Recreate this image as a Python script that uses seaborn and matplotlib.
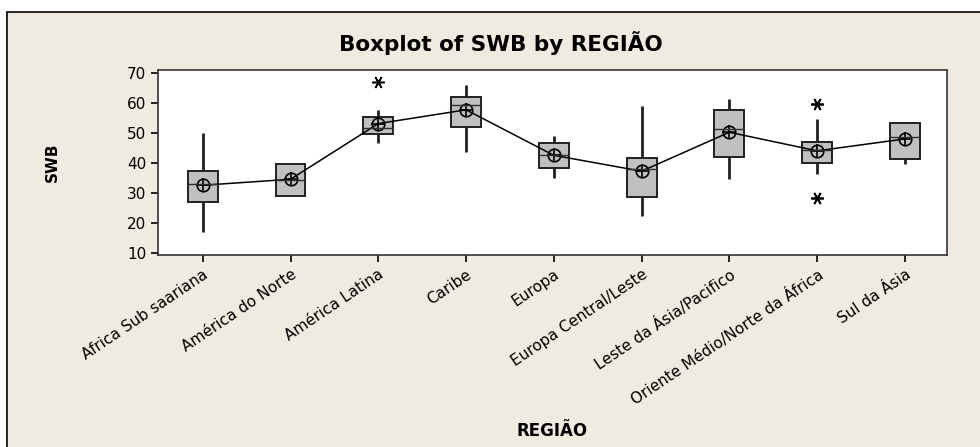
import numpy as np
import pandas as pd
import seaborn as sns
from matplotlib import pyplot as plt
from matplotlib.patches import Rectangle

regioes = ["Africa Sub saariana", "América do Norte", "América Latina", "Caribe",
           "Europa", "Europa Central/Leste", "Leste da Ásia/Pacifico",
           "Oriente Médio/Norte da África", "Sul da Ásia"]

africa_sub = [16.9, 22.0, 27.1, 30.0, 32.9, 35.0, 37.4, 42.1, 50.0]
america_norte = [29.0, 29.0, 29.0, 32.0, 34.4, 38.6, 39.8, 39.8, 39.8]
america_latina = [46.6, 48.0, 49.0, 49.7, 50.5, 51.2, 51.8, 53.0, 54.5, 55.3, 57.0, 57.8, 67.2]
caribe = [43.8, 51.5, 52.2, 58.5, 59.4, 61.6, 62.0, 65.0, 66.2]
europa = [35.1, 37.0, 38.2, 40.5, 42.7, 45.5, 46.8, 48.5, 49.1]
europa_central = [22.4, 25.0, 28.6, 35.0, 37.9, 40.0, 41.7, 45.9, 59.2]
leste_asia = [34.6, 40.0, 42.1, 49.0, 51.4, 56.5, 57.7, 60.0, 61.4]
oriente_medio = [28.2, 28.2, 36.3, 38.0, 39.9, 41.0, 42.5, 43.5, 44.4,
                 45.0, 45.8, 46.5, 47.1, 49.1, 54.6, 59.8, 59.8]
sul_asia = [39.6, 41.2, 41.4, 48.2, 48.6, 53.2, 53.3, 53.5, 53.6]

valores = [africa_sub, america_norte, america_latina, caribe, europa,
           europa_central, leste_asia, oriente_medio, sul_asia]

df = pd.DataFrame({
    "REGIAO": [r for r, v in zip(regioes, valores) for _ in v],
    "SWB": [x for v in valores for x in v],
})

sns.set_style("white")
plt.rcParams['font.family'] = ['DejaVu Sans']
plt.rcParams['text.color'] = 'black'
plt.rcParams['axes.labelcolor'] = 'black'

fig = plt.figure(figsize=(9.8, 4.47), dpi=100)
fig.patch.set_facecolor("white")
# painel bege do Minitab
fig.patches.append(Rectangle((7 / 980, -0.01), 1.0, 1 - 12 / 447 + 0.01,
                             transform=fig.transFigure, facecolor="#EFEBE1",
                             edgecolor="black", linewidth=1.2, zorder=-5))

ax = fig.add_axes([158 / 980, 1 - 255 / 447, (947 - 158) / 980, (255 - 70) / 447])
ax.set_facecolor("white")

sns.boxplot(data=df, x="REGIAO", y="SWB", order=regioes, ax=ax, width=0.34,
            color="#C0C0C0", linecolor="#202020", linewidth=1.4,
            whis=1.5, showcaps=False,
            whiskerprops={"linewidth": 2.0, "color": "#202020"},
            medianprops={"linewidth": 1.0, "color": "#303030"},
            flierprops={"marker": (6, 2, 30), "markersize": 9,
                        "markeredgecolor": "black", "markeredgewidth": 1.1})

sns.pointplot(data=df, x="REGIAO", y="SWB", order=regioes, ax=ax,
              estimator="mean", errorbar=None, color="black",
              markers="o", markersize=9, markerfacecolor="none",
              markeredgewidth=1.2, linewidth=1.1)
sns.pointplot(data=df, x="REGIAO", y="SWB", order=regioes, ax=ax,
              estimator="mean", errorbar=None, color="black",
              markers="+", markersize=10, markeredgewidth=1.2,
              linestyle="none")

ax.set_xlim(-0.51, 8.48)
ax.set_ylim(9.3, 71.1)
ax.set_yticks([10, 20, 30, 40, 50, 60, 70])
ax.tick_params(axis="both", direction="out", length=5, width=1.2, colors="black",
               labelsize=11, left=True, bottom=True)
ax.set_xticks(range(len(regioes)))
ax.set_xticklabels(regioes, rotation=34, ha="right", rotation_mode="anchor")
for s in ax.spines.values():
    s.set_color("#333333")
    s.set_linewidth(1.2)

ax.set_xlabel("REGIÃO", fontsize=12, fontweight="bold", labelpad=0)
ax.xaxis.set_label_coords(0.5, -0.90)
ax.set_ylabel("SWB", fontsize=11, fontweight="bold")
ax.yaxis.set_label_coords(-0.125, 0.5)
fig.text(501 / 980, 1 - 43 / 447, "Boxplot of SWB by REGIÃO", ha="center", va="center",
         fontsize=15.5, fontweight="bold")

fig.savefig("out.png", dpi=100)
